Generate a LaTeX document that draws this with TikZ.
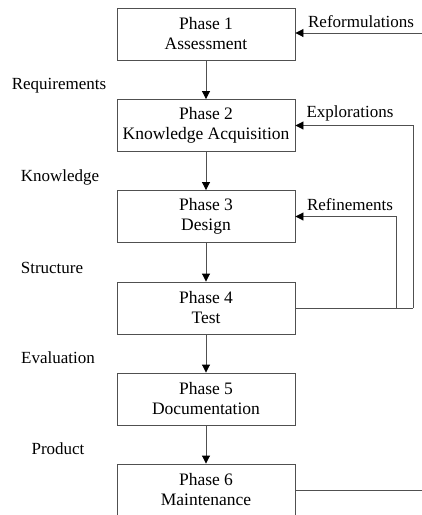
\documentclass[tikz,border=0pt]{standalone}
\usepackage{fontspec}
\setmainfont{Liberation Serif}
\newfontfamily\diagfont{Liberation Serif}
\usetikzlibrary{arrows.meta}
\definecolor{linegray}{HTML}{505050}
\begin{document}
\begin{tikzpicture}[x=1pt,y=-1pt,
  phasebox/.style={draw=linegray, line width=0.9pt, minimum width=178pt, minimum height=52pt, align=center, inner sep=0pt, font=\diagfont\fontsize{17.5}{20}\selectfont},
  lbl/.style={inner sep=0pt, font=\diagfont\fontsize{17}{20}\selectfont},
  conn/.style={draw=linegray, line width=0.9pt},
  arr/.style={conn, -{Triangle[length=8pt,width=8pt,color=black]}}]
\useasboundingbox (0,0) rectangle (422,515);
\node[phasebox] (b1) at (206,34) {Phase 1\\Assessment};
\node[phasebox] (b2) at (206,125.5) {Phase 2\\Knowledge Acquisition};
\node[phasebox] (b3) at (206,216.5) {Phase 3\\Design};
\node[phasebox] (b4) at (206,308) {Phase 4\\Test};
\node[phasebox] (b5) at (206,399) {Phase 5\\Documentation};
\node[phasebox] (b6) at (206,490) {Phase 6\\Maintenance};
\draw[arr] (b1) -- (b2);
\draw[arr] (b2) -- (b3);
\draw[arr] (b3) -- (b4);
\draw[arr] (b4) -- (b5);
\draw[arr] (b5) -- (b6);
\node[lbl] (lreq) at (59,86) {Requirements};
\node[lbl] (lkno) at (60,177) {Knowledge};
\node[lbl] (lstr) at (52,268) {Structure};
\node[lbl] (leva) at (58,358) {Evaluation};
\node[lbl] (lpro) at (58,449) {Product};
\coordinate (rin) at (422,33);
\draw[arr] (rin) -- (rin -| b1.east);
\node[lbl] (lref) at (361,22) {Reformulations};
\coordinate (ex) at (413,308);
\coordinate (rf) at (396,308);
\draw[conn] (b4.east) -- (ex);
\draw[arr] (ex) |- (b2.east);
\draw[arr] (rf) |- (b3.east);
\node[lbl] (lexp) at (350,113) {Explorations};
\node[lbl] (lrfn) at (350,205) {Refinements};
\coordinate (mout) at (422,490);
\draw[conn] (b6.east) -- (mout);
\end{tikzpicture}
\end{document}
